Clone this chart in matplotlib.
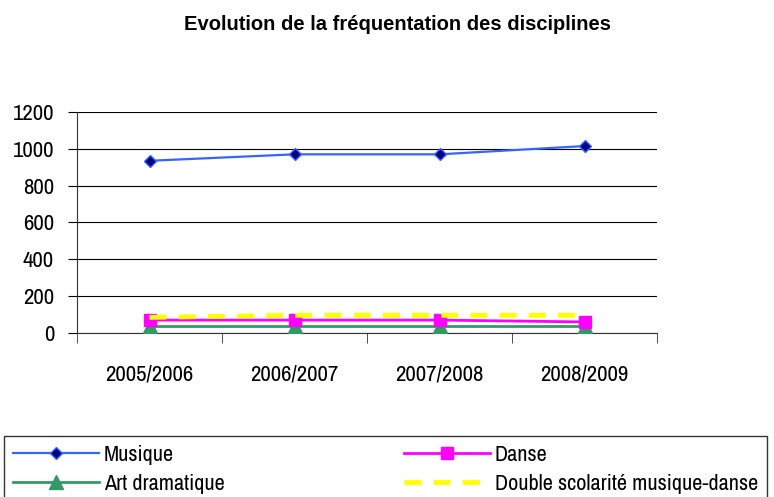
import matplotlib.pyplot as plt
import numpy as np

plt.rcParams['font.family'] = ['Archivo Narrow', 'Liberation Sans', 'DejaVu Sans']

years = ['2005/2006', '2006/2007', '2007/2008', '2008/2009']
musique = [935, 970, 970, 1015]
danse = [70, 70, 70, 60]
art_dramatique = [38, 38, 38, 38]
double_scol = [85, 96, 96, 96]

fig = plt.figure(figsize=(7.74, 4.97), dpi=100)
ax = fig.add_axes([0.0995, 0.330, 0.7495, 0.4447])

x = np.arange(len(years))

ax.plot(x, musique, color='#3366FF', lw=1.6, marker='D', ms=6.5,
        markerfacecolor='#000080', markeredgecolor='#3366FF', label='Musique', zorder=5)
ax.plot(x, danse, color='#FF00FF', lw=2, marker='s', ms=8,
        markerfacecolor='#FF00FF', markeredgecolor='#FF00FF', label='Danse', zorder=4)
ax.plot(x, art_dramatique, color='#339966', lw=2, marker='^', ms=9.5,
        markerfacecolor='#339966', markeredgecolor='#339966', label='Art dramatique', zorder=3)
ax.plot(x, double_scol, color='#FFFF00', lw=3.5, dashes=(3.5, 2.5),
        label='Double scolarité musique-danse', zorder=6)

ax.set_xlim(-0.5, 3.5)
ax.set_ylim(0, 1200)
ax.set_yticks(range(0, 1201, 200))
ax.yaxis.grid(True, color='black', lw=0.8)
ax.set_axisbelow(True)
ax.set_xticks(x)
ax.set_xticklabels(years, fontsize=16.5)
ax.set_xticks(np.arange(-0.5, 4.0, 1), minor=True)
ax.tick_params(axis='x', which='major', length=0, pad=23)
ax.tick_params(axis='x', which='minor', length=7, direction='out', color='#333333')
ax.tick_params(axis='y', length=6.5, direction='out', labelsize=16.5, pad=10)
for s in ['top', 'right']:
    ax.spines[s].set_visible(False)
ax.spines['left'].set_color('#333333')
ax.spines['bottom'].set_color('#333333')

fig.text(0.513, 0.951, 'Evolution de la fréquentation des disciplines',
         ha='center', va='center', fontsize=14.5, fontweight='bold',
         family=['Liberation Sans', 'DejaVu Sans'])

handles, labels = ax.get_legend_handles_labels()
order = [0, 2, 1, 3]
leg = fig.legend([handles[i] for i in order], [labels[i] for i in order], ncol=2,
                 loc='upper left', bbox_to_anchor=(0.005, 0.1227),
                 fontsize=16, frameon=True, fancybox=False,
                 handlelength=3.9, handletextpad=0.2, borderpad=0.4,
                 labelspacing=0.4, columnspacing=8.05, borderaxespad=0)
leg.get_frame().set_edgecolor('black')
leg.get_frame().set_linewidth(1)

fig.savefig('out.png', dpi=100)
